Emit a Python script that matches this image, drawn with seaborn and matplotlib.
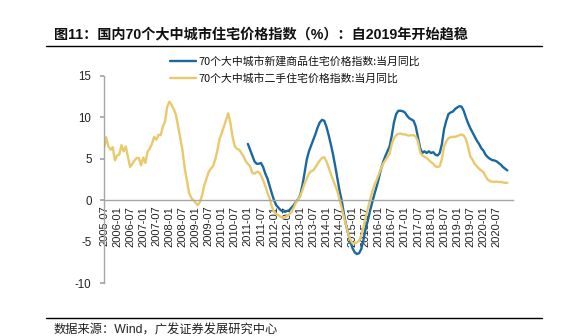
import numpy as np
import pandas as pd
import matplotlib
matplotlib.use("Agg")
import matplotlib.pyplot as plt
import seaborn as sns

# Monthly YoY change (%), 2005-07 .. 2020-12
start_month = "2005-07"
end_month = "2020-12"

second_hand = [
    6.25, 7.6, 6.5, 6.1, 6.4, 4.8, 5.4, 5.5, 6.65, 5.9,
    6.5, 5.2, 4.0, 4.4, 4.8, 5.1, 5.1, 4.2, 5.15, 4.5,
    5.85, 6.25, 6.8, 7.65, 7.3, 7.9, 7.85, 8.9, 9.5, 11.3,
    11.9, 11.5, 11.0, 10.3, 8.9, 7.5, 6.0, 3.9, 2.4, 0.9,
    0.3, 0.0, -0.3, -0.6, -0.2, 0.6, 1.8, 2.6, 3.4, 3.8,
    4.1, 4.9, 6.0, 7.4, 8.1, 8.9, 9.7, 10.5, 9.3, 7.6,
    6.5, 6.2, 6.1, 5.7, 5.3, 4.7, 4.4, 4.1, 3.3, 3.2,
    3.4, 3.4, 3.0, 2.4, 1.7, 0.9, 0.2, -0.8, -1.4, -1.7,
    -1.8, -2.0, -2.1, -2.1, -1.9, -1.7, -1.4, -0.9, -0.3, 0.1,
    0.5, 1.2, 2.0, 2.6, 3.2, 3.5, 3.6, 4.0, 4.4, 4.8,
    5.1, 5.2, 4.7, 4.0, 3.2, 2.5, 1.8, 1.1, 0.1, -0.9,
    -2.0, -3.0, -4.0, -4.8, -5.2, -5.2, -5.1, -4.9, -4.3, -3.3,
    -2.1, -1.0, 0.0, 1.0, 1.8, 2.4, 3.1, 3.8, 4.4, 4.8,
    5.2, 5.6, 6.8, 7.5, 7.85, 8.0, 8.05, 7.95, 7.95, 7.85,
    7.8, 7.85, 7.85, 7.7, 7.1, 5.8, 5.4, 5.25, 5.1, 4.85,
    4.6, 4.4, 4.1, 4.0, 4.1, 5.0, 6.5, 7.1, 7.5, 7.6,
    7.65, 7.65, 7.75, 7.85, 7.95, 7.8, 7.4, 6.4, 5.3, 4.9,
    4.4, 4.1, 3.8, 3.6, 3.4, 2.9, 2.5, 2.3, 2.25, 2.2,
    2.25, 2.2, 2.2, 2.15, 2.1, 2.1,
]

# New commercial housing series begins 2011-01
new_start_month = "2011-01"
new_build = [
    6.8, 6.1, 5.4, 4.7, 4.4, 4.4, 4.5, 4.0, 3.2, 2.6,
    1.7, 0.8, 0.0, -0.6, -0.9, -1.2, -1.35, -1.4, -1.3, -1.2,
    -0.9, -0.6, -0.2, 0.1, 0.6, 1.8, 3.3, 4.9, 5.9, 6.6,
    7.3, 8.0, 8.8, 9.4, 9.7, 9.6, 8.9, 7.9, 6.8, 5.6,
    4.2, 2.7, 1.2, 0.0, -1.6, -3.0, -4.0, -5.0, -5.8, -6.3,
    -6.5, -6.4, -5.9, -4.8, -3.4, -2.5, -1.3, -0.3, 0.7, 1.6,
    2.6, 3.7, 4.6, 5.3, 5.9, 6.5, 7.8, 9.4, 10.4, 10.8,
    10.8, 10.75, 10.6, 10.2, 9.9, 9.75, 9.6, 8.9, 7.6, 6.3,
    5.7, 5.9, 5.7, 5.9, 5.7, 5.8, 5.5, 5.4, 5.7, 6.8,
    8.6, 9.6, 10.4, 10.6, 10.7, 11.0, 11.2, 11.35, 11.3, 10.8,
    10.0, 9.3, 8.7, 8.2, 7.7, 7.2, 6.8, 6.3, 6.0, 5.5,
    5.2, 5.0, 4.85, 4.8, 4.7, 4.5, 4.3, 4.0, 3.8, 3.6,
]

label_new = "70个大中城市新建商品住宅价格指数:当月同比"
label_second = "70个大中城市二手住宅价格指数:当月同比"
title_text = "图11：国内70个大中城市住宅价格指数（%）：自2019年开始趋稳"
source_text = "数据来源：Wind，广发证券发展研究中心"
y_ticks = [-10, -5, 0, 5, 10, 15]

months = pd.date_range(start_month, end_month, freq="MS")
month_labels = months.strftime("%Y-%m")
idx = np.arange(len(months))
new_offset = list(months).index(pd.Timestamp(new_start_month))
new_full = [np.nan] * new_offset + new_build

df = pd.DataFrame({
    "idx": idx,
    "month": month_labels,
    "new": new_full,
    "second": second_hand,
})

sns.set_theme(style="white")
plt.rcParams["font.family"] = ["Liberation Sans", "Noto Sans CJK SC", "DejaVu Sans"]

BLUE = "#1b679f"
YELLOW = "#e9c96b"
GRAY = "#a6a6a6"

fig = plt.figure(figsize=(5.85, 3.36), dpi=100)
ax = fig.add_axes([104 / 585, 1 - 283 / 336, (513 - 104) / 585, (283 - 76) / 336])

sns.lineplot(data=df, x="idx", y="new", ax=ax, color=BLUE, lw=1.7, label=label_new)
sns.lineplot(data=df, x="idx", y="second", ax=ax, color=YELLOW, lw=1.7, label=label_second)

# Spine placement first: moving a spine rebuilds its tick objects
for side in ("top", "right"):
    ax.spines[side].set_visible(False)
ax.spines["bottom"].set_position(("data", 0))
ax.spines["bottom"].set_color(GRAY)
ax.spines["left"].set_color(GRAY)
ax.spines["bottom"].set_linewidth(1.0)
ax.spines["left"].set_linewidth(1.0)

ax.set_xlim(0, 187.6)
ax.set_ylim(-10, 15)
ax.set_yticks(y_ticks)
ax.set_yticklabels([str(v) for v in y_ticks], fontsize=8.3, color="#222222")
tick_pos = idx[::6]
ax.set_xticks(tick_pos)
ax.set_xticklabels(month_labels[::6], rotation=90, fontsize=8, color="#222222")
ax.set_xlabel("")
ax.set_ylabel("")

ax.tick_params(axis="y", direction="out", length=3, color=GRAY, pad=6, left=True)
ax.tick_params(axis="x", direction="out", length=0, pad=4, bottom=True, labelrotation=90)

leg = ax.legend(
    loc="upper left",
    bbox_to_anchor=(170 / 585, 1 - 56 / 336),
    bbox_transform=fig.transFigure,
    frameon=False,
    borderpad=0,
    borderaxespad=0,
    handlelength=2.4,
    handletextpad=0.2,
    labelspacing=0.55,
    prop={"family": ["Noto Sans CJK SC", "DejaVu Sans"], "size": 7.8},
)
for t in leg.get_texts():
    t.set_color("#111111")

fig.text(54 / 585, 1 - 34 / 336, title_text, fontsize=10.2, fontweight="bold",
         family=["Liberation Sans", "Noto Sans CJK SC"], va="center", ha="left", color="#111111")
fig.add_artist(plt.Line2D([46 / 585, 542 / 585], [1 - 45.5 / 336] * 2, color="black", lw=1.0))
fig.add_artist(plt.Line2D([46 / 585, 542 / 585], [1 - 318 / 336] * 2, color="black", lw=1.0))
fig.text(54 / 585, 1 - 330.5 / 336, source_text, fontsize=8.8,
         family=["Liberation Sans", "Noto Sans CJK SC"], va="center", ha="left", color="#222222")

fig.savefig("out.png", dpi=100, facecolor="white")
